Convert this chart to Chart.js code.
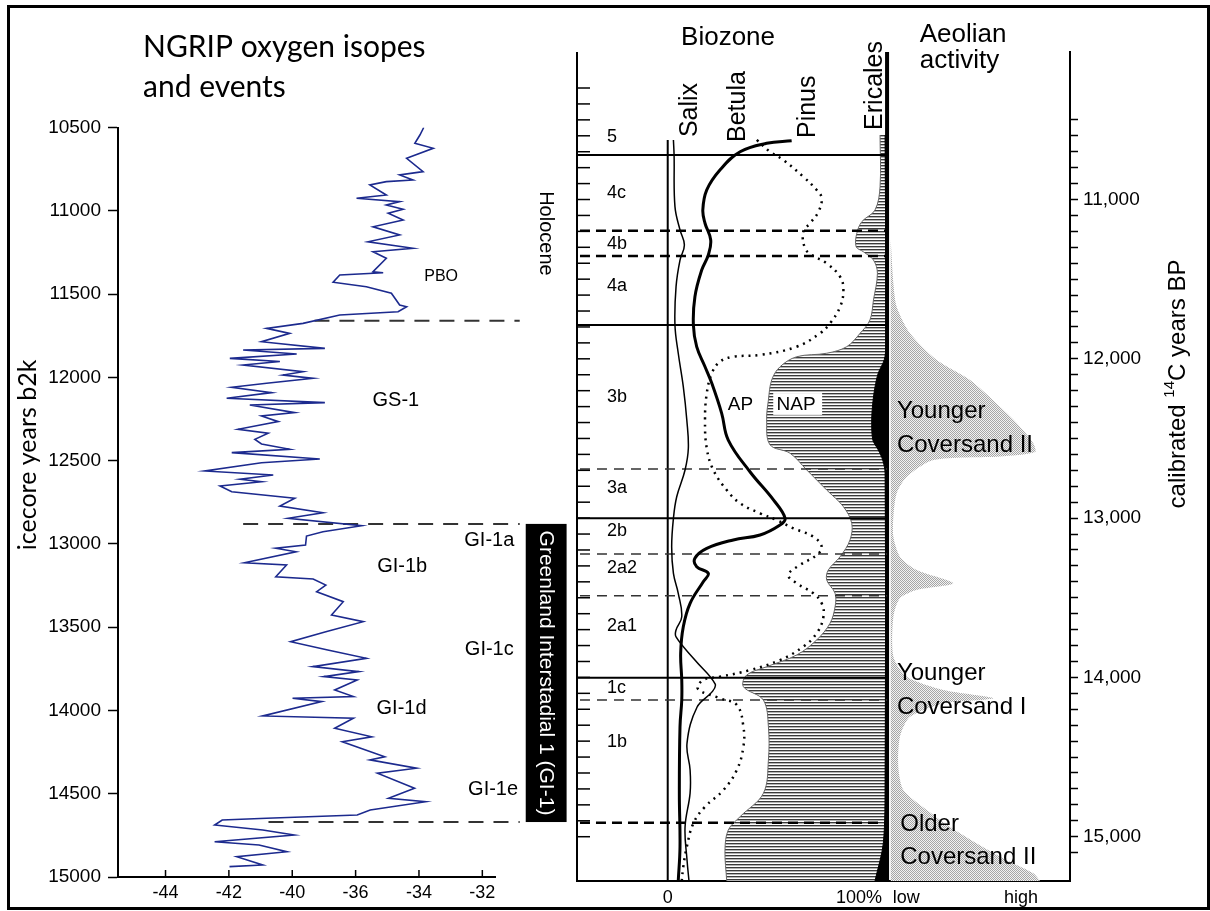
<!DOCTYPE html>
<html>
<head>
<meta charset="utf-8">
<title>NGRIP oxygen isotopes, biozones and aeolian activity</title>
<script src="https://cdn.jsdelivr.net/npm/chart.js@4.4.1/dist/chart.umd.min.js"></script>
<style>
  html, body { margin: 0; padding: 0; background: #fff; }
  body { width: 1210px; height: 911px; position: relative; overflow: hidden; }
  canvas { position: absolute; top: 0; }
  #left { left: 0; }
  #right { left: 560px; }
  #frame { position: absolute; left: 7px; top: 5px; width: 1197px; height: 899px; border: 3px solid #000; pointer-events: none; }
</style>
</head>
<body>
<canvas id="left" width="575" height="911"></canvas>
<canvas id="right" width="650" height="911"></canvas>
<div id="frame"></div>
<script>
'use strict';

// ===== NGRIP data (left panel) =====
// x values sit on the drawn axis (evenly spaced ticks -44 ... -34);
// the figure labels those ticks -44,-42,-40,-36,-34,-32.
const NGRIP_AGE = [
  10500,10545,10595,10625,10685,10765,10785,10815,10825,10845,
  10905,10925,10945,10965,10991,11015,11055,11096,11145,11186,
  11225,11246,11285,11366,11372,11386,11429,11456,11495,11566,
  11576,11606,11626,11676,11706,11736,11786,11826,11836,11860,
  11886,11905,11926,11966,11986,12006,12036,12060,12092,12126,
  12152,12166,12212,12232,12266,12312,12336,12372,12400,12432,
  12452,12490,12513,12562,12586,12612,12627,12652,12687,12726,
  12773,12813,12846,12891,12927,12953,13007,13026,13047,13113,
  13127,13197,13211,13247,13287,13347,13427,13467,13527,13587,
  13637,13687,13737,13767,13797,13817,13877,13917,13927,13947,
  14033,14047,14107,14158,14188,14278,14297,14347,14377,14467,
  14527,14548,14598,14628,14647,14658,14688,14718,14748,14788,
  14808,14848,14878,14928,14938
];
const NGRIP_D18O = [
  -35.85,-35.97,-36.13,-35.55,-36.39,-35.87,-36.61,-36.19,-37.03,-37.55,
  -37.03,-37.97,-36.61,-37.03,-36.50,-36.97,-36.50,-37.45,-36.61,-37.61,
  -36.19,-37.45,-37.03,-37.45,-37.13,-38.50,-38.71,-37.66,-36.87,-36.61,
  -36.39,-36.66,-38.50,-39.66,-40.81,-40.08,-40.97,-38.97,-41.55,-39.86,
  -41.97,-40.39,-41.55,-39.66,-40.29,-39.34,-40.81,-41.91,-40.65,-42.07,
  -38.97,-41.34,-39.92,-40.97,-40.44,-41.71,-40.76,-41.18,-40.97,-40.08,
  -41.91,-39.13,-40.97,-42.76,-40.60,-41.65,-40.97,-42.28,-41.91,-39.92,
  -40.39,-39.03,-40.13,-37.81,-39.03,-39.55,-39.58,-40.52,-39.88,-41.51,
  -40.18,-40.52,-39.34,-38.94,-39.23,-38.39,-38.76,-37.76,-38.94,-40.05,
  -38.88,-37.66,-39.35,-37.90,-39.00,-37.95,-38.66,-38.07,-39.99,-39.07,
  -40.93,-38.07,-38.66,-37.49,-38.42,-37.08,-37.55,-36.08,-37.31,-36.14,
  -36.96,-35.79,-37.54,-37.95,-40.81,-42.21,-42.45,-40.93,-39.94,-42.45,
  -41.05,-40.17,-41.75,-40.93,-41.98
];
const NGRIP_X_TICKS = [-44, -42, -40, -38, -36, -34];
const NGRIP_X_LABELS = ['-44', '-42', '-40', '-36', '-34', '-32'];
const NGRIP_Y_LABEL = 'icecore years b2k';

const EVENT_AGES = [11660, 12880, 14670];
const EVENT_LINE_FROM = [-39.3, -41.55, -40.75];
const EVENT_LINE_TO = -32.82;
const EVENT_NAMES = ['PBO', 'GS-1', 'GI-1a', 'GI-1b', 'GI-1c', 'GI-1d', 'GI-1e'];

// ===== Pollen diagram data (right panel), ages in calibrated 14C years BP =====
const SALIX_AGE = [10626,10721,11045,11191,11286,11380,11547,11788,11965,12175,
  12384,12562,12698,12866,13001,13180,13347,13472,13619,13702,
  13746,13891,14041,14091,14186,14412,14581,14726,14939,15146,15278];
const SALIX_PCT = [2.6,2.9,3.3,5.6,7.6,5.6,3.8,3.3,4.8,7.1,
  8.7,9.4,7.9,4.1,2.6,1.8,2.6,4.8,6.4,3.8,
  3.8,12.4,21.6,20.2,13.4,8.8,10.2,10.2,7.9,8.8,9.7];

const BETULA_AGE = [10631,10647,10700,10815,10940,11066,11149,11254,11348,11443,
  11610,11788,11924,12050,12154,12342,12510,12709,12886,13001,
  13043,13106,13137,13190,13252,13305,13347,13399,13535,13682,
  13849,14016,14142,14309,14728,15063,15278];
const BETULA_PCT = [56.5,45.1,33.0,23.8,17.8,16.0,17.0,19.6,18.5,15.5,
  12.4,11.7,13.2,17.0,20.1,24.6,27.6,37.5,48.2,53.5,
  51.2,42.1,29.9,17.8,12.4,13.2,18.5,16.2,10.2,7.1,
  5.9,6.4,6.4,5.6,5.3,5.6,4.8];

const PINUS_AGE = [10626,10700,10752,10857,10940,10992,11077,11149,11202,11306,
  11348,11401,11485,11568,11673,11777,11840,11924,11976,11987,
  12018,12091,12217,12384,12562,12698,12824,12907,12970,13012,
  13064,13117,13180,13232,13294,13357,13409,13472,13535,13619,
  13723,13807,13891,13954,13996,14016,14072,14131,14173,14309,
  14435,14581,14707,14812,14916,15063,15188,15276];
const PINUS_PCT = [40.6,46.6,52.7,61.8,67.9,70.2,68.7,64.9,61.8,62.6,
  65.7,72.5,78.6,80.1,78.6,74.0,69.4,58.8,42.1,29.9,
  23.8,20.1,17.8,17.0,17.8,20.8,26.9,33.0,42.1,49.7,
  57.3,66.4,70.2,67.9,60.3,55.0,58.8,66.4,70.2,71.0,
  67.9,61.8,51.2,37.5,23.8,16.2,13.8,23.8,31.5,34.5,
  34.5,31.5,25.4,17.0,11.7,8.7,7.1,6.4];

// AP / NAP boundary (NAP hatched to the right of it)
const NAP_AGE = [10595,10920,11066,11139,11212,11296,11328,11380,11463,11631,
  11756,11840,11924,11965,11987,12050,12133,12259,12384,12539,
  12593,12698,12824,12928,13033,13137,13242,13326,13389,13472,
  13556,13660,13765,13859,13933,13985,14058,14142,14309,14519,
  14728,14874,14958,15083,15278];
const NAP_PCT = [96.8,96.8,94.5,88.5,86.2,85.9,89.2,93.8,95.6,93.8,
  92.2,87.7,81.6,72.5,58.8,51.2,47.4,45.9,45.1,46.6,
  55.8,63.4,72.5,80.1,83.9,83.1,78.6,73.2,72.5,76.3,
  76.3,74.0,67.9,58.8,45.1,36.0,34.5,43.6,45.9,45.9,
  43.6,33.0,27.6,26.1,26.9];

const ERICALES_AGE = [10595,11913,12007,12089,12177,12277,12384,12509,12572,12635,12717,14642,15040,15278];
const ERICALES_PCT = [99.1,99.5,98.7,96.0,94.5,93.5,93.0,93.5,96.0,98.0,99.1,99.1,98.3,94.5];

// aeolian activity, 0 = low
const AEOLIAN_AGE = [11254,11526,11673,11840,12008,12133,12301,12426,12530,12585,
  12613,12635,12740,12844,12991,13117,13242,13326,13409,13451,
  13503,13619,13870,13996,14079,14131,14163,14247,14372,14561,
  14707,14832,14979,15126,15230,15278];
const AEOLIAN_INDEX = [0,1.8,4.0,12.9,30.8,53.1,73.2,86.6,95.5,96.7,
  73.2,28.6,10.8,4.0,1.8,1.8,6.2,17.4,41.9,17.4,
  6.2,1.8,1.8,10.8,35.3,68.8,35.3,12.9,6.2,5.1,
  8.5,24.1,46.4,73.2,95.5,100];

const ZONE_SOLID = [10721, 11788, 13001, 14002];
const ZONE_DASHED = [12692, 13225, 13487, 14142];
const ZONE_DASHED_BOLD = [11196, 11355, 14912];
const ZONE_NAMES = ['5', '4c', '4b', '4a', '3b', '3a', '2b', '2a2', '2a1', '1c', '1b'];
const ZONE_NAME_AGES = [10608, 10959, 11279, 11543, 12240, 12811, 13081, 13313, 13677, 14066, 14405];

const TAXA = ['Salix', 'Betula', 'Pinus', 'Ericales'];
const POLLEN_X_TICKS = [0, 87.2, 108.7, 161.1];
const POLLEN_X_LABELS = ['0', '100%', 'low', 'high'];
const COVERSAND_UNITS = [['Younger', 'Coversand II'], ['Younger', 'Coversand I'], ['Older', 'Coversand II']];

// ===== ranges / helpers =====
const AGE_MIN = 10074, AGE_MAX = 15278;
const PCT_MIN = -41.36, PCT_MAX = 183.4;
const ZERO_LINE_TOP = 10626;

const SANS = '"Liberation Sans", Arial, sans-serif';
const HUMANIST = 'Lato, "Liberation Sans", sans-serif';
Chart.defaults.font.family = SANS;
Chart.defaults.color = '#000';

const pts = (xs, ys) => xs.map((v, i) => ({ x: v, y: ys[i] }));
const range = (from, to, step) => { const out = []; for (let v = from; v <= to; v += step) out.push(v); return out; };
const withCommas = v => String(v).replace(/\B(?=(\d{3})+(?!\d))/g, ',');

function text(ctx, str, x, y, font, opts = {}){
  ctx.save();
  ctx.translate(x, y);
  if(opts.angle) ctx.rotate(opts.angle);
  ctx.font = font;
  ctx.fillStyle = opts.color || '#000';
  ctx.textAlign = opts.align || 'center';
  ctx.textBaseline = opts.baseline || 'middle';
  ctx.fillText(str, 0, 0);
  ctx.restore();
}

function makePattern(w, h, paint){
  const c = document.createElement('canvas');
  c.width = w; c.height = h;
  const g = c.getContext('2d');
  paint(g);
  return g.createPattern(c, 'repeat');
}

// horizontal hatch for NAP, fine stipple for aeolian sand
const HATCH = makePattern(4, 3, g => {
  g.fillStyle = '#fff'; g.fillRect(0, 0, 4, 3);
  g.fillStyle = '#3a3a3a'; g.fillRect(0, 0, 4, 1);
  g.fillStyle = '#b4b4b4'; g.fillRect(0, 1, 4, 1);
});
const STIPPLE = makePattern(2, 2, g => {
  g.fillStyle = '#f2f2f2'; g.fillRect(0, 0, 2, 2);
  g.fillStyle = '#a6a6a6'; g.fillRect(0, 0, 1, 1); g.fillRect(1, 1, 1, 1);
});

// ===== left panel decorations =====
const leftDecor = {
  id: 'leftDecor',
  afterDraw(chart){
    const { ctx, chartArea: ca, scales: { x, y } } = chart;
    ctx.save();

    // x ticks point up into the plot
    ctx.strokeStyle = '#000';
    ctx.lineWidth = 1.5;
    x.ticks.forEach(t => {
      const px = x.getPixelForValue(t.value);
      ctx.beginPath(); ctx.moveTo(px, ca.bottom); ctx.lineTo(px, ca.bottom - 7); ctx.stroke();
    });

    // titles
    ctx.font = '30px ' + HUMANIST;
    ctx.fillStyle = '#000';
    ctx.textAlign = 'left';
    ctx.textBaseline = 'alphabetic';
    ctx.fillText('NGRIP oxygen isopes', 143, 57);
    ctx.fillText('and events', 143, 97);
    text(ctx, NGRIP_Y_LABEL, ca.left - 90, y.getPixelForValue(12466), '25px ' + HUMANIST, { angle: -Math.PI / 2 });

    // event labels
    const spots = [
      [-35.30, 11398, 16], [-36.73, 12140, 20], [-33.78, 12977, 20], [-36.53, 13133, 20],
      [-33.78, 13631, 20], [-36.55, 13991, 20], [-33.66, 14472, 20]
    ];
    EVENT_NAMES.forEach((name, i) => {
      const [ex, ey, size] = spots[i];
      text(ctx, name, x.getPixelForValue(ex), y.getPixelForValue(ey), size + 'px ' + SANS);
    });

    text(ctx, 'Holocene', x.getPixelForValue(-32.02), y.getPixelForValue(11136), '20px ' + SANS, { angle: Math.PI / 2 });

    // black GI-1 bar
    const bx0 = x.getPixelForValue(-32.63), bx1 = x.getPixelForValue(-31.34);
    const by0 = y.getPixelForValue(EVENT_AGES[1]), by1 = y.getPixelForValue(EVENT_AGES[2]);
    ctx.fillStyle = '#000';
    ctx.fillRect(bx0, by0, bx1 - bx0, by1 - by0);
    text(ctx, 'Greenland Interstadial 1 (GI-1)', (bx0 + bx1) / 2, (by0 + by1) / 2, '21px ' + SANS,
      { angle: Math.PI / 2, color: '#fff' });

    ctx.restore();
  }
};

// ===== right panel decorations =====
const rightDecor = {
  id: 'rightDecor',
  afterDraw(chart){
    const { ctx, chartArea: ca, scales: { x, y } } = chart;
    const X = v => x.getPixelForValue(v);
    const Y = v => y.getPixelForValue(v);
    ctx.save();

    // biozone column frame + inward depth ticks
    ctx.strokeStyle = '#000';
    ctx.lineWidth = 2;
    ctx.beginPath(); ctx.moveTo(ca.left, ca.top); ctx.lineTo(ca.left, ca.bottom); ctx.stroke();
    ctx.lineWidth = 1.5;
    range(10300, 15000, 100).forEach(a => {
      const py = Y(a);
      ctx.beginPath(); ctx.moveTo(ca.left, py); ctx.lineTo(ca.left + 13, py); ctx.stroke();
    });

    // zone names
    ZONE_NAMES.forEach((z, i) => text(ctx, z, X(-27.7), Y(ZONE_NAME_AGES[i]), '18px ' + SANS, { align: 'left' }));

    // headings
    text(ctx, 'Biozone', X(27.5), 38, '26px ' + SANS);
    text(ctx, 'Aeolian', X(114.9), 42, '26px ' + SANS, { align: 'left', baseline: 'alphabetic' });
    text(ctx, 'activity', X(114.9), 68, '26px ' + SANS, { align: 'left', baseline: 'alphabetic' });

    // taxon names, reading upwards
    const taxaX = [13.4, 35.2, 67.2, 97.6];
    const taxaAge = [10608, 10639, 10614, 10563];
    TAXA.forEach((t, i) => text(ctx, t, X(taxaX[i]), Y(taxaAge[i]), '25px ' + SANS,
      { angle: -Math.PI / 2, align: 'left', baseline: 'alphabetic' }));

    // AP / NAP
    text(ctx, 'AP', X(33.2), Y(12287), '19px ' + SANS);
    const nx0 = X(48.1), nx1 = X(70.4), ny0 = Y(12215), ny1 = Y(12352);
    ctx.fillStyle = '#fff';
    ctx.fillRect(nx0, ny0, nx1 - nx0, ny1 - ny0);
    text(ctx, 'NAP', X(58.5), Y(12287), '19px ' + SANS);

    // coversand units
    const unitAges = [[12328, 12541], [13972, 14186], [14925, 15132]];
    const unitX = [104.5, 104.5, 106];
    COVERSAND_UNITS.forEach((lines, i) => {
      lines.forEach((ln, j) => text(ctx, ln, X(unitX[i]), Y(unitAges[i][j]), '24px ' + SANS, { align: 'left' }));
    });

    // right axis title with superscript
    ctx.translate(ca.right + 108, Y(12158));
    ctx.rotate(-Math.PI / 2);
    ctx.fillStyle = '#000';
    ctx.textBaseline = 'middle';
    ctx.textAlign = 'left';
    const big = '24px ' + SANS, small = '15px ' + SANS;
    ctx.font = big; const w1 = ctx.measureText('calibrated ').width;
    ctx.font = small; const w2 = ctx.measureText('14').width;
    ctx.font = big; const w3 = ctx.measureText('C years BP').width;
    let cx = -(w1 + w2 + w3) / 2;
    ctx.font = big; ctx.fillText('calibrated ', cx, 0); cx += w1;
    ctx.font = small; ctx.fillText('14', cx, -8); cx += w2;
    ctx.font = big; ctx.fillText('C years BP', cx, 0);

    ctx.restore();
  }
};

// ===== left chart =====
new Chart(document.getElementById('left'), {
  type: 'line',
  data: {
    datasets: [
      { data: pts(NGRIP_D18O, NGRIP_AGE), borderColor: '#1c2a8e', borderWidth: 1.6, pointRadius: 0, tension: 0, fill: false },
      ...EVENT_AGES.map((a, i) => ({
        data: [{ x: EVENT_LINE_FROM[i], y: a }, { x: EVENT_LINE_TO, y: a }],
        borderColor: '#333', borderWidth: 2, borderDash: [15, 10], pointRadius: 0, fill: false, clip: false
      }))
    ]
  },
  options: {
    indexAxis: 'y',
    responsive: false,
    animation: false,
    layout: { padding: { left: 0, top: 127.5, right: 80, bottom: 0 } },
    plugins: { legend: { display: false }, tooltip: { enabled: false } },
    scales: {
      x: {
        type: 'linear', min: -45.5, max: -33.6,
        afterBuildTicks: s => { s.ticks = NGRIP_X_TICKS.map(v => ({ value: v })); },
        afterFit: s => { s.height = 34; },
        ticks: { autoSkip: false, maxRotation: 0, padding: 5, font: { size: 18 }, color: '#000',
          callback: (v, i) => NGRIP_X_LABELS[i] },
        grid: { display: false, drawTicks: false },
        border: { color: '#000', width: 2 }
      },
      y: {
        type: 'linear', reverse: true, min: 10500, max: 15000,
        afterFit: s => { s.width = 118; },
        ticks: { stepSize: 500, autoSkip: false, padding: 7, font: { size: 19 }, color: '#000', callback: v => String(v) },
        grid: { drawOnChartArea: false, tickLength: 10, tickColor: '#000', tickWidth: 1.5 },
        border: { color: '#000', width: 2 }
      }
    }
  },
  plugins: [leftDecor]
});

// ===== right chart =====
const line = (data, o) => Object.assign({ data, pointRadius: 0, borderColor: '#000', fill: false, tension: 0 }, o);

new Chart(document.getElementById('right'), {
  type: 'line',
  data: {
    datasets: [
      line(pts(SALIX_PCT, SALIX_AGE), { borderWidth: 1.5, tension: 0.4, order: 1 }),
      line(pts(BETULA_PCT, BETULA_AGE), { borderWidth: 3, tension: 0.4, order: 1 }),
      line(pts(PINUS_PCT, PINUS_AGE), { borderWidth: 2.5, borderDash: [2, 5], tension: 0.4, order: 1 }),
      ...ZONE_SOLID.map(a => line([{ x: PCT_MIN, y: a }, { x: 100, y: a }], { borderWidth: 2, order: 2 })),
      ...ZONE_DASHED.map(a => line([{ x: -40, y: a }, { x: 100, y: a }], { borderWidth: 1.5, borderColor: '#333', borderDash: [10, 7], order: 2 })),
      ...ZONE_DASHED_BOLD.map(a => line([{ x: -40, y: a }, { x: 100, y: a }], { borderWidth: 2.5, borderDash: [10, 6], order: 2 })),
      line([{ x: 0, y: ZERO_LINE_TOP }, { x: 0, y: AGE_MAX }], { borderWidth: 2, order: 2 }),
      line([{ x: 100, y: AGE_MIN }, { x: 100, y: AGE_MAX }], { borderWidth: 4, order: 2 }),
      line(pts(ERICALES_PCT, ERICALES_AGE), { borderWidth: 1, backgroundColor: '#000', fill: { value: 100 }, tension: 0.3, order: 8 }),
      line(pts(NAP_PCT, NAP_AGE), { borderWidth: 1, borderColor: '#666', backgroundColor: HATCH, fill: { value: 100 }, tension: 0.35, order: 9 }),
      line(pts(AEOLIAN_INDEX, AEOLIAN_AGE), { xAxisID: 'xA', borderWidth: 0, borderColor: 'rgba(0,0,0,0)', backgroundColor: STIPPLE, fill: { value: 0 }, tension: 0.25, order: 10 })
    ]
  },
  options: {
    indexAxis: 'y',
    responsive: false,
    animation: false,
    layout: { padding: { left: 17, top: 52, right: 0, bottom: 0 } },
    plugins: { legend: { display: false }, tooltip: { enabled: false } },
    scales: {
      x: {
        type: 'linear', position: 'bottom', min: PCT_MIN, max: PCT_MAX,
        afterBuildTicks: s => { s.ticks = POLLEN_X_TICKS.map(v => ({ value: v })); },
        afterFit: s => { s.height = 30; },
        ticks: { autoSkip: false, maxRotation: 0, padding: 6, font: { size: 18 }, color: '#000',
          callback: (v, i) => POLLEN_X_LABELS[i] },
        grid: { display: false, drawTicks: false },
        border: { color: '#000', width: 2 }
      },
      xA: { type: 'linear', display: false, min: -210.1, max: 120.1 },
      y: {
        type: 'linear', position: 'right', reverse: true, min: AGE_MIN, max: AGE_MAX,
        afterBuildTicks: s => { s.ticks = range(10500, 15100, 100).map(v => ({ value: v })); },
        afterFit: s => { s.width = 140; },
        ticks: { autoSkip: false, padding: 5, font: { size: 19 }, color: '#000',
          callback: v => (v % 1000 === 0 ? withCommas(v) : '') },
        grid: { drawOnChartArea: false, tickLength: 8, tickColor: '#000', tickWidth: 1.5 },
        border: { color: '#000', width: 2 }
      }
    }
  },
  plugins: [rightDecor]
});
</script>
</body>
</html>
